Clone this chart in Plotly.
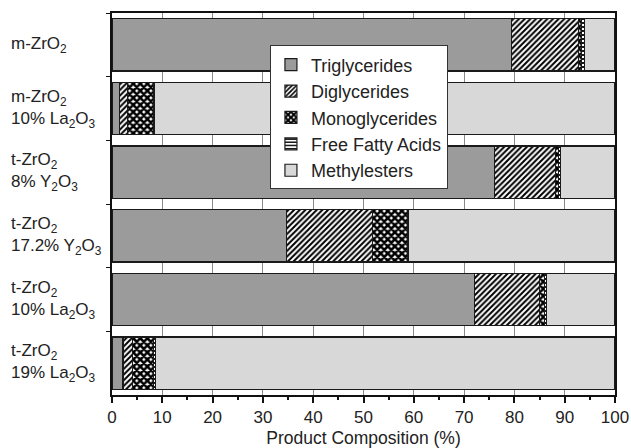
import plotly.graph_objects as go

# Catalyst supports (top to bottom)
categories = [
    "m-ZrO<sub>2</sub>",
    "m-ZrO<sub>2</sub><br>10% La<sub>2</sub>O<sub>3</sub>",
    "t-ZrO<sub>2</sub><br>8% Y<sub>2</sub>O<sub>3</sub>",
    "t-ZrO<sub>2</sub><br>17.2% Y<sub>2</sub>O<sub>3</sub>",
    "t-ZrO<sub>2</sub><br>10% La<sub>2</sub>O<sub>3</sub>",
    "t-ZrO<sub>2</sub><br>19% La<sub>2</sub>O<sub>3</sub>",
]

# Product composition (%) per catalyst
triglycerides = [79.5, 1.5, 76.1, 34.7, 72.1, 2.2]
diglycerides = [13.2, 1.6, 12.1, 17.1, 12.9, 1.8]
monoglycerides = [0.6, 5.1, 0.6, 6.9, 1.0, 4.3]
free_fatty_acids = [0.6, 0.2, 0.4, 0.3, 0.4, 0.4]
methylesters = [6.1, 91.6, 10.8, 41.0, 13.6, 91.3]

x_ticks = list(range(0, 101, 10))

FONT = "Liberation Sans, Arial, sans-serif"
EDGE = "#1a1a1a"

series = [
    ("Triglycerides", triglycerides, dict(color="#9a9b9a")),
    ("Diglycerides", diglycerides,
     dict(color="white", pattern=dict(shape="/", fgcolor="black", bgcolor="white",
                                      fgopacity=1, size=4, solidity=0.5))),
    ("Monoglycerides", monoglycerides,
     dict(color="white", pattern=dict(shape="x", fgcolor="black", bgcolor="white",
                                      fgopacity=1, size=5, solidity=0.75))),
    ("Free Fatty Acids", free_fatty_acids,
     dict(color="white", pattern=dict(shape="-", fgcolor="black", bgcolor="white",
                                      fgopacity=1, size=4, solidity=0.45))),
    ("Methylesters", methylesters, dict(color="#d8d8d8")),
]

fig = go.Figure()
for name, values, marker in series:
    marker = dict(marker)
    marker["line"] = dict(color=EDGE, width=1.2)
    fig.add_trace(go.Bar(
        y=categories, x=values, name=name, orientation="h",
        marker=marker,
    ))

# Left-aligned category labels
for cat in categories:
    fig.add_annotation(
        x=-0.205, xref="paper", y=cat, yref="y",
        text=cat, showarrow=False, xanchor="left", align="left",
        font=dict(family=FONT, size=17, color="#222"),
    )

fig.update_layout(
    width=631, height=448,
    margin=dict(l=112, r=16, t=13, b=53, autoexpand=False),
    barmode="stack", bargap=0.18,
    plot_bgcolor="white", paper_bgcolor="white",
    font=dict(family=FONT, size=17, color="#222"),
    showlegend=True,
    legend=dict(
        x=0.314, y=0.915, xanchor="left", yanchor="top",
        bgcolor="white", bordercolor="#333", borderwidth=1,
        font=dict(family=FONT, size=18, color="#222"),
        traceorder="normal", tracegroupgap=0,
    ),
    xaxis=dict(
        range=[0, 100], tickvals=x_ticks, automargin=False,
        ticks="outside", ticklen=6, tickwidth=1.5, tickcolor="#111",
        minor=dict(dtick=5, ticks="outside", ticklen=3, tickcolor="#111", showgrid=False),
        showgrid=True, gridcolor="#8a8a8a", gridwidth=1,
        showline=True, linecolor="#111", linewidth=1.5, mirror=True,
        zeroline=False,
        tickfont=dict(family=FONT, size=17),
        title=dict(text="Product Composition (%)", font=dict(family=FONT, size=17.5),
                   standoff=9),
    ),
    yaxis=dict(
        type="category", categoryarray=categories, autorange="reversed",
        showticklabels=False, tickson="boundaries", automargin=False,
        ticks="outside", ticklen=4, tickcolor="#111",
        showgrid=False,
        showline=True, linecolor="#111", linewidth=1.5, mirror=True,
    ),
)

fig.write_html("out.html")
